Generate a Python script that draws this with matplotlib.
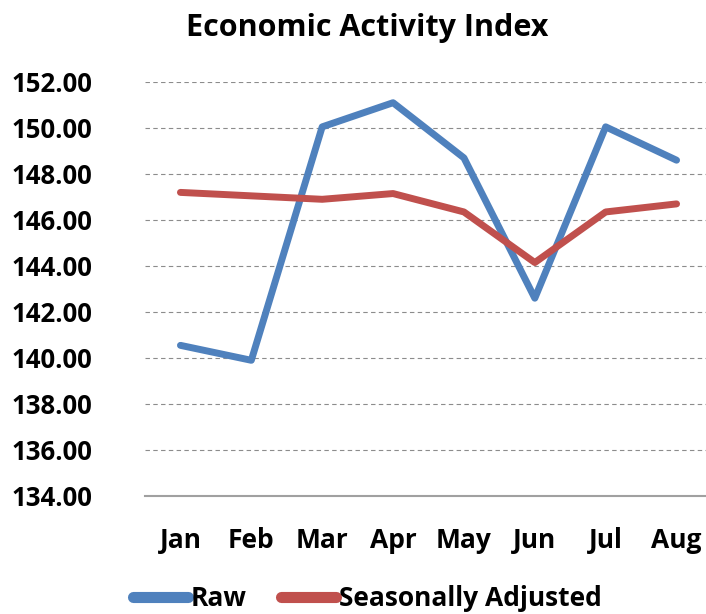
import matplotlib.pyplot as plt

# data
months = ['Jan', 'Feb', 'Mar', 'Apr', 'May', 'Jun', 'Jul', 'Aug']
raw = [140.55, 139.9, 150.05, 151.1, 148.7, 142.6, 150.05, 148.6]
seasonally_adjusted = [147.2, 147.05, 146.9, 147.15, 146.35, 144.15, 146.35, 146.7]
y_ticks = [134, 136, 138, 140, 142, 144, 146, 148, 150, 152]

plt.rcParams['font.family'] = ['Open Sans', 'DejaVu Sans']
plt.rcParams['font.weight'] = 'bold'

fig = plt.figure(figsize=(7.06, 6.14), dpi=100)
ax = fig.add_axes([145 / 706, 1 - 496 / 614, 567 / 706, 414 / 614])

x = range(len(months))
ax.plot(x, raw, color='#4F81BD', linewidth=5, label='Raw', solid_capstyle='round')
ax.plot(x, seasonally_adjusted, color='#C0504D', linewidth=5,
        label='Seasonally Adjusted', solid_capstyle='round')

ax.set_xlim(-0.5, len(months) - 0.5)
ax.set_ylim(134, 152)
ax.set_yticks(y_ticks)
ax.set_yticklabels(['%.2f' % t for t in y_ticks], fontsize=18.5, fontweight='bold')
ax.set_xticks(list(x))
ax.set_xticklabels(months, fontsize=19, fontweight='bold')
ax.tick_params(length=0)
ax.tick_params(axis='y', pad=38)
ax.tick_params(axis='x', pad=22)

# dashed gridlines, solid base line
ax.yaxis.grid(True, linestyle=(0, (4, 3)), color='#8c8c8c', linewidth=0.8)
ax.set_axisbelow(True)
for side in ['left', 'right', 'top']:
    ax.spines[side].set_visible(False)
ax.spines['bottom'].set_color('#a0a0a0')
ax.spines['bottom'].set_linewidth(1.5)

fig.text(0.52, 0.955, 'Economic Activity Index', ha='center', va='center',
         fontsize=22, fontweight='bold')

leg = fig.legend(loc='center', bbox_to_anchor=(0.52, 0.025), ncol=2, frameon=False,
                 fontsize=19, handlelength=2.1, handletextpad=0.1, columnspacing=1.3)
for line in leg.get_lines():
    line.set_linewidth(8)
    line.set_solid_capstyle('round')

fig.savefig('out.png', dpi=100)
